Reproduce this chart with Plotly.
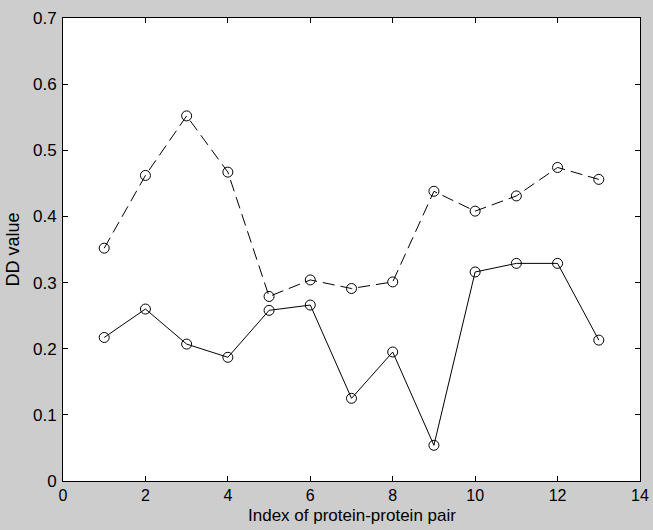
import plotly.graph_objects as go

pair_index = list(range(1, 14))
dd_dashed = [0.352, 0.462, 0.552, 0.467, 0.279, 0.304, 0.291, 0.301, 0.438, 0.408, 0.431, 0.474, 0.456]
dd_solid = [0.217, 0.260, 0.207, 0.187, 0.258, 0.266, 0.125, 0.195, 0.054, 0.316, 0.329, 0.329, 0.213]
x_ticks = [0, 2, 4, 6, 8, 10, 12, 14]
y_ticks = [0, 0.1, 0.2, 0.3, 0.4, 0.5, 0.6, 0.7]
x_title = "Index of protein-protein pair"
y_title = "DD value"

FONT = "Liberation Sans, Arial, sans-serif"
BG = "#cdcdcd"

fig = go.Figure()
fig.add_trace(go.Scatter(
    x=pair_index, y=dd_dashed, mode="lines+markers",
    line=dict(color="black", width=1, dash="12px,6px"),
    marker=dict(symbol="circle-open", size=10, color="black", line=dict(width=1)),
    showlegend=False,
))
fig.add_trace(go.Scatter(
    x=pair_index, y=dd_solid, mode="lines+markers",
    line=dict(color="black", width=1),
    marker=dict(symbol="circle-open", size=10, color="black", line=dict(width=1)),
    showlegend=False,
))

axis_common = dict(
    showline=True, linecolor="black", linewidth=1, mirror="ticks",
    ticks="inside", ticklen=5, tickcolor="black", tickwidth=1,
    showgrid=False, zeroline=False, automargin=False,
)
fig.update_xaxes(range=[0, 14], tickvals=x_ticks, ticktext=[str(v) for v in x_ticks],
                 ticklabelstandoff=0, tickfont=dict(family=FONT, size=16, color="black"),
                 **axis_common)
fig.update_yaxes(range=[0, 0.7], tickvals=y_ticks,
                 ticktext=["0", "0.1", "0.2", "0.3", "0.4", "0.5", "0.6", "0.7"],
                 ticklabelstandoff=2, tickfont=dict(family=FONT, size=17, color="black"),
                 **axis_common)
fig.add_annotation(text=x_title, xref="paper", yref="paper", x=0.5, y=0,
                   xanchor="center", yanchor="middle", yshift=-34,
                   showarrow=False, font=dict(family=FONT, size=17, color="black"))
fig.add_annotation(text=y_title, xref="paper", yref="paper", x=0, y=0.5,
                   xanchor="center", yanchor="middle", xshift=-51,
                   textangle=-90, showarrow=False, font=dict(family=FONT, size=18, color="black"))
fig.update_layout(
    width=653, height=530,
    margin=dict(l=63, r=13, t=18, b=49),
    paper_bgcolor=BG, plot_bgcolor="white",
)
fig.write_html(
    "out.html",
    config={"displayModeBar": False},
    post_script="document.body.style.margin='0';document.body.style.padding='0';"
                "document.body.style.background='" + BG + "';",
)
